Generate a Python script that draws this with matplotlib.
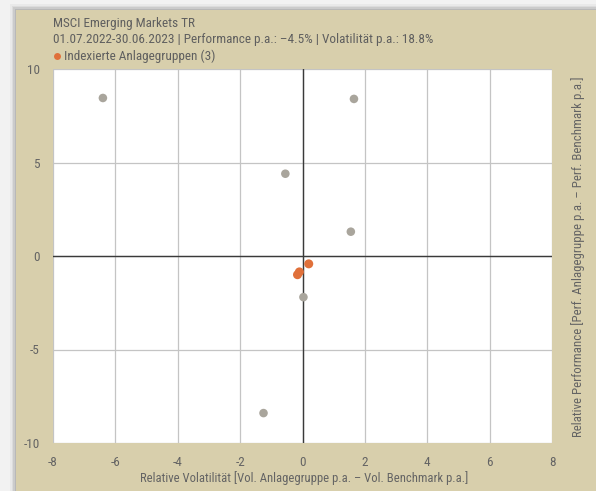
import matplotlib
matplotlib.use("Agg")
import matplotlib.pyplot as plt
from matplotlib.patches import Rectangle

plt.rcParams['font.family'] = ['Roboto Condensed', 'DejaVu Sans']

# Data
gray_vol = [-6.4, 1.65, -0.55, 1.55, 0.03, -1.25]
gray_perf = [8.45, 8.4, 4.4, 1.3, -2.2, -8.4]
orange_vol = [0.2, -0.1, -0.16]
orange_perf = [-0.42, -0.85, -1.0]
xticks = [-8, -6, -4, -2, 0, 2, 4, 6, 8]
yticks = [-10, -5, 0, 5, 10]

title1 = "MSCI Emerging Markets TR"
title2 = "01.07.2022-30.06.2023 | Performance p.a.: –4.5% | Volatilität p.a.: 18.8%"
legend_label = "Indexierte Anlagegruppen (3)"
xlabel = "Relative Volatilität [Vol. Anlagegruppe p.a. – Vol. Benchmark p.a.]"
ylabel = "Relative Performance [Perf. Anlagegruppe p.a. – Perf. Benchmark p.a.]"

W, H = 596, 491
fig = plt.figure(figsize=(W/100, H/100), dpi=100)
fig.patch.set_facecolor('#f2f2f2')

# shadow + panel
for i, a in enumerate([0.08, 0.12, 0.18, 0.25]):
    off = 6 - i * 1.5
    fig.add_artist(Rectangle(((16 - off)/W, 0), 1, (H - 10 + off)/H, transform=fig.transFigure,
                             facecolor='#808080', alpha=a, edgecolor='none', zorder=-3))
fig.add_artist(Rectangle((16/W, 0), 1, (H - 10)/H, transform=fig.transFigure,
                         facecolor='#d8cfac', edgecolor='none', zorder=-2))

ax = fig.add_axes([53/W, 1 - 443/H, (552 - 53)/W, (443 - 69)/H])
ax.set_zorder(2)
ax.set_facecolor('white')
ax.set_xlim(-8, 8)
ax.set_ylim(-10, 10)
ax.set_xticks(xticks)
ax.set_yticks(yticks)
ax.grid(True, color='#c4c4c4', linewidth=0.9)
ax.set_axisbelow(True)
for s in ax.spines.values():
    s.set_visible(False)
ax.axhline(0, color='#3a3a3a', linewidth=1.0, zorder=1)
ax.axvline(0, color='#3a3a3a', linewidth=1.0, zorder=1)
ax.tick_params(length=0, labelsize=9.5, labelcolor='#646464', pad=9)
ax.tick_params(axis='y', pad=9.5)
ax.set_xticklabels([str(t) for t in xticks])
ax.set_yticklabels([str(t) for t in yticks])

ax.scatter(gray_vol, gray_perf, s=38, color='#a9a59c', edgecolors='none', zorder=3)
ax.scatter(orange_vol, orange_perf, s=42, color='#e0703a', edgecolors='none', zorder=4)

fig.text(304/W, 1 - 478/H, xlabel, ha='center', va='center', fontsize=9.1, color='#646464')
fig.text(578/W, 1 - 257/H, ylabel, rotation=90, ha='center', va='center', fontsize=9.3, color='#646464')

fig.text(53/W, 1 - 23/H, title1, fontsize=9.5, color='#5f5f5f', va='center', ha='left')
fig.text(53/W, 1 - 40/H, title2, fontsize=9.5, color='#5f5f5f', va='center', ha='left')
fig.add_artist(plt.Line2D([57/W], [1 - 56/H], marker='o', markersize=5, color='#e0703a',
                          markeredgecolor='none', transform=fig.transFigure, linestyle='none'))
fig.text(64/W, 1 - 56/H, legend_label, fontsize=9.5, color='#5f5f5f', va='center', ha='left')

fig.savefig('out.png', dpi=100, facecolor=fig.get_facecolor())
